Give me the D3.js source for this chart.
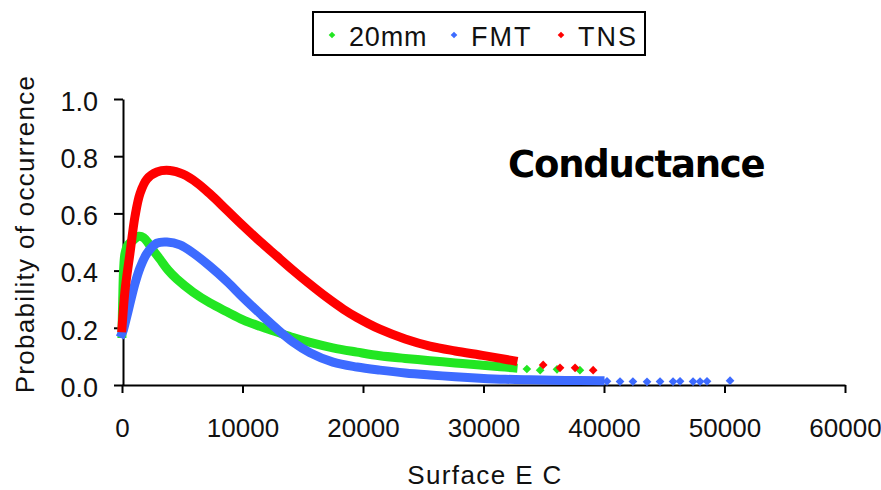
<!DOCTYPE html>
<html>
<head>
<meta charset="utf-8">
<script src="https://cdn.jsdelivr.net/npm/d3@7"></script>
<style>
  body { margin: 0; background: #fff; }
  svg { display: block; font-family: "Liberation Sans", Arial, sans-serif; }
</style>
</head>
<body>
<div id="chart"></div>
<script>
// Surface EC values and probabilities
const greenX = [0, 60, 130, 250, 500, 900, 1400, 1800, 2200, 2570, 3150, 3820, 4560, 5890, 7300, 8710, 10040, 11450, 12860, 14200, 15600, 17500, 19500, 21400, 23500, 25550, 27650, 29700, 31400, 32450];
const greenY = [0.18, 0.30, 0.40, 0.46, 0.49, 0.505, 0.52, 0.515, 0.495, 0.472, 0.44, 0.402, 0.37, 0.325, 0.287, 0.256, 0.228, 0.205, 0.185, 0.166, 0.149, 0.13, 0.115, 0.102, 0.093, 0.085, 0.077, 0.07, 0.064, 0.06];
const greenTailX = [33600, 34700, 36100, 38000];
const greenTailY = [0.056, 0.052, 0.055, 0.052];

const blueX = [0, 100, 400, 660, 1080, 1500, 2070, 2900, 3730, 4810, 5890, 7300, 8710, 10040, 11450, 12860, 14190, 15600, 17510, 19500, 21400, 23500, 25550, 27650, 29700, 31800, 33860, 36800, 39670];
const blueY = [0.18, 0.19, 0.24, 0.285, 0.355, 0.41, 0.46, 0.496, 0.50, 0.49, 0.462, 0.415, 0.362, 0.306, 0.25, 0.196, 0.15, 0.113, 0.08, 0.063, 0.052, 0.042, 0.035, 0.029, 0.024, 0.02, 0.018, 0.016, 0.015];
const blueTailX = [40250, 41330, 42400, 43570, 44650, 45730, 46310, 47390, 47970, 48550, 50460];
const blueTailY = [0.013, 0.012, 0.012, 0.011, 0.012, 0.012, 0.013, 0.012, 0.012, 0.013, 0.015];

const redX = [0, 250, 660, 1080, 1500, 2070, 2900, 3980, 5060, 6220, 7300, 8690, 10070, 11450, 12840, 14200, 15600, 17000, 18370, 19500, 21400, 23500, 25550, 27650, 29700, 31400, 32450];
const redY = [0.20, 0.33, 0.46, 0.59, 0.67, 0.72, 0.745, 0.75, 0.737, 0.707, 0.668, 0.612, 0.556, 0.502, 0.451, 0.401, 0.352, 0.306, 0.265, 0.236, 0.195, 0.161, 0.136, 0.119, 0.105, 0.093, 0.085];
const redTailX = [34950, 36350, 37600, 39100];
const redTailY = [0.07, 0.06, 0.06, 0.052];

const xTicks = [0, 10000, 20000, 30000, 40000, 50000, 60000];
const yTicks = [0, 0.2, 0.4, 0.6, 0.8, 1.0];

const seriesNames = ['20mm', 'FMT', 'TNS'];
const seriesColors = ['#22e622', '#3d6bff', '#ff0000'];

const W = 881, H = 490;
const svg = d3.select('#chart').append('svg').attr('width', W).attr('height', H);

const x = d3.scaleLinear().domain([0, 60000]).range([122, 845]);
const y = d3.scaleLinear().domain([0, 1]).range([385, 99]);

// axes
const xAxis = svg.append('g').attr('transform', 'translate(0,385)')
  .call(d3.axisBottom(x).tickValues(xTicks).tickFormat(d3.format('d')).tickSize(8).tickSizeOuter(0).tickPadding(26));
const yAxis = svg.append('g').attr('transform', 'translate(123,0)')
  .call(d3.axisLeft(y).tickValues(yTicks).tickFormat(d3.format('.1f')).tickSize(9).tickSizeOuter(0).tickPadding(16));
[xAxis, yAxis].forEach(a => {
  a.select('.domain').attr('stroke', '#000').attr('stroke-width', 2);
  a.selectAll('.tick line').attr('stroke', '#000').attr('stroke-width', 2);
  a.selectAll('.tick text').attr('fill', '#111').style('font-size', '26px').style('font-family', '"Liberation Sans", Arial, sans-serif');
});
yAxis.selectAll('.tick text').attr('dy', '0.42em').style('font-size', '27px');

// series: dense band as a thick line, sparse tail as diamond markers
const line = d3.line().x(d => x(d[0])).y(d => y(d[1])).curve(d3.curveCatmullRom.alpha(0.5));
const diamond = d3.symbol().type(d3.symbolSquare).size(38);

const series = [
  { xs: greenX, ys: greenY, tx: greenTailX, ty: greenTailY },
  { xs: blueX, ys: blueY, tx: blueTailX, ty: blueTailY },
  { xs: redX, ys: redY, tx: redTailX, ty: redTailY }
];

series.forEach((s, i) => {
  const pts = s.xs.map((v, k) => [v, s.ys[k]]);
  const tail = s.tx.map((v, k) => [v, s.ty[k]]);
  const gS = svg.append('g');
  gS.append('path').datum(pts)
    .attr('d', line)
    .attr('fill', 'none')
    .attr('stroke', seriesColors[i])
    .attr('stroke-width', 9)
    .attr('stroke-linecap', 'square')
    .attr('stroke-linejoin', 'round');
  gS.selectAll('path.tail').data(tail).join('path')
    .attr('class', 'tail')
    .attr('d', diamond)
    .attr('transform', d => `translate(${x(d[0])},${y(d[1])}) rotate(45)`)
    .attr('fill', seriesColors[i]);
});

// axis titles
svg.append('text')
  .attr('transform', 'translate(34,234) rotate(-90)')
  .attr('text-anchor', 'middle')
  .style('font-size', '26px')
  .style('letter-spacing', '1.3px')
  .attr('fill', '#111')
  .text('Probability of occurrence');

svg.append('text')
  .attr('x', 485).attr('y', 484)
  .attr('text-anchor', 'middle')
  .style('font-size', '26px')
  .style('letter-spacing', '1.4px')
  .attr('fill', '#111')
  .text('Surface E C');

svg.append('text')
  .attr('x', 508).attr('y', 177)
  .style('font-family', '"DejaVu Sans", sans-serif')
  .style('font-weight', 'bold')
  .style('font-size', '37px')
  .style('letter-spacing', '-1.2px')
  .attr('fill', '#000')
  .text('Conductance');

// legend
const leg = svg.append('g');
leg.append('rect').attr('x', 313).attr('y', 12).attr('width', 332).attr('height', 43)
  .attr('fill', '#fff').attr('stroke', '#000').attr('stroke-width', 2);
const legX = [332, 454, 561];
seriesNames.forEach((n, i) => {
  leg.append('path').attr('d', d3.symbol().type(d3.symbolSquare).size(22))
    .attr('transform', `translate(${legX[i]},35) rotate(45)`)
    .attr('fill', seriesColors[i]);
  leg.append('text').attr('x', legX[i] + 17).attr('y', 46)
    .style('font-size', '27px')
    .style('letter-spacing', i === 0 ? '0.8px' : '2px')
    .attr('fill', '#111')
    .text(n);
});
</script>
</body>
</html>
